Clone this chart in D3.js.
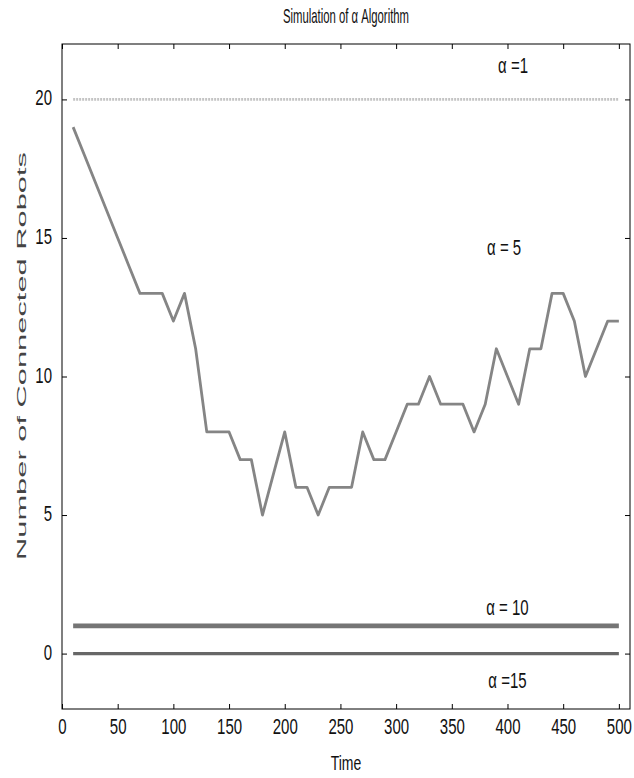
<!DOCTYPE html>
<html><head><meta charset="utf-8">
<script src="https://cdn.jsdelivr.net/npm/d3@7"></script>
<style>
body{margin:0;background:#fff;}
svg{display:block;}
.lab{font-family:"Liberation Sans",Arial,sans-serif;fill:#111;}
</style></head>
<body><svg id="c" width="634" height="778"></svg>
<script>
// ---- data ----
const time = [10,20,30,40,50,60,70,80,90,100,110,120,130,140,150,160,170,180,190,200,210,220,230,240,250,260,270,280,290,300,310,320,330,340,350,360,370,380,390,400,410,420,430,440,450,460,470,480,490,500];
const alpha5 = [19,18,17,16,15,14,13,13,13,12,13,11,8,8,8,7,7,5,6.5,8,6,6,5,6,6,6,8,7,7,8,9,9,10,9,9,9,8,9,11,10,9,11,11,13,13,12,10,11,12,12];
const alpha1 = time.map(() => 20);
const alpha10 = time.map(() => 1);
const alpha15 = time.map(() => 0);
const xTicks = [0,50,100,150,200,250,300,350,400,450,500];
const yTicks = [0,5,10,15,20];
const labels = [
  {text:"\u03b1 =1", x:405, y:20.95},
  {text:"\u03b1 = 5", x:397, y:14.4},
  {text:"\u03b1 = 10", x:400, y:1.4},
  {text:"\u03b1 =15", x:400, y:-1.25}
];

// ---- layout ----
const svg = d3.select("#c");
const L = 62, R = 630, T = 44, B = 709;
const x = d3.scaleLinear().domain([0,510]).range([L,R]);
const y = d3.scaleLinear().domain([-2,22]).range([B,T]);
const SY = 1.42;

function squeeze(sel){
  sel.each(function(){
    const t = d3.select(this);
    const yy = +t.attr("y") || 0;
    t.attr("y", null).attr("dy", null)
     .attr("transform", `translate(0,${yy}) scale(1,${SY})`);
  });
}

// lines
const line = d3.line().x((d,i)=>x(time[i])).y(d=>y(d));
const series = [
  {v:alpha1, c:"#c4c4c4", w:2.6, dash:"2,1"},
  {v:alpha15, c:"#676767", w:3.4},
  {v:alpha10, c:"#757575", w:4.6},
  {v:alpha5, c:"#858585", w:2.8}
];
series.forEach(s=>{
  svg.append("path").attr("d", line(s.v)).attr("fill","none")
    .attr("stroke", s.c).attr("stroke-width", s.w)
    .attr("stroke-dasharray", s.dash||null).attr("stroke-linejoin","round");
});

// axes
const tl = 5;
const gB = svg.append("g").attr("transform",`translate(0,${B})`)
  .call(d3.axisBottom(x).tickValues(xTicks).tickSizeInner(-tl).tickSizeOuter(0));
const gT = svg.append("g").attr("transform",`translate(0,${T})`)
  .call(d3.axisTop(x).tickValues(xTicks).tickSizeInner(-tl).tickSizeOuter(0).tickFormat(""));
const gL = svg.append("g").attr("transform",`translate(${L},0)`)
  .call(d3.axisLeft(y).tickValues(yTicks).tickSizeInner(-tl).tickSizeOuter(0).tickPadding(10));
const gR = svg.append("g").attr("transform",`translate(${R},0)`)
  .call(d3.axisRight(y).tickValues(yTicks).tickSizeInner(-tl).tickSizeOuter(0).tickFormat(""));
[gB,gT,gL,gR].forEach(g=>{
  g.select(".domain").remove();
  g.selectAll("line").attr("stroke","#000");
  g.selectAll("text").attr("class","lab").attr("font-size",15).attr("fill","#111");
});
gB.selectAll("text").attr("dy",null).attr("y",25).call(squeeze);
gL.selectAll("text").attr("dy",null).attr("y",5.5).call(squeeze);

svg.append("rect").attr("x",L).attr("y",T).attr("width",R-L).attr("height",B-T)
  .attr("fill","none").attr("stroke","#000").attr("stroke-width",1);

// title
svg.append("text").attr("class","lab").attr("font-size",14).attr("text-anchor","middle")
  .attr("textLength",126).attr("lengthAdjust","spacingAndGlyphs")
  .attr("transform",`translate(${(L+R)/2},23) scale(1,${SY})`).text("Simulation of \u03b1 Algorithm");
// x label
svg.append("text").attr("class","lab").attr("font-size",14).attr("text-anchor","middle")
  .attr("transform",`translate(${(L+R)/2},770) scale(1,${SY})`).text("Time");
// y label
svg.append("text").attr("font-family","Liberation Sans, Arial, sans-serif").attr("font-size",13.5)
  .attr("text-anchor","middle").attr("fill","#444")
  .attr("transform",`translate(26,356) rotate(-90)`)
  .attr("textLength",408).attr("lengthAdjust","spacingAndGlyphs")
  .text("Number of Connected Robots");

// series labels
labels.forEach(d=>{
  svg.append("text").attr("class","lab").attr("font-size",15).attr("text-anchor","middle")
    .attr("transform",`translate(${x(d.x)},${y(d.y)}) scale(1,${SY})`).text(d.text);
});
</script></body></html>
